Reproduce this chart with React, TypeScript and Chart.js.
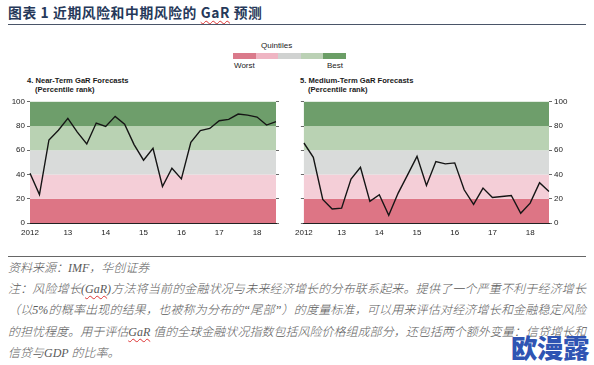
import React, { useEffect, useRef } from "react";
import { Chart, registerables } from "chart.js";

Chart.register(...registerables);

// ---------- data ----------
const quarters = [
  "2012Q1", "2012Q2", "2012Q3", "2012Q4",
  "2013Q1", "2013Q2", "2013Q3", "2013Q4",
  "2014Q1", "2014Q2", "2014Q3", "2014Q4",
  "2015Q1", "2015Q2", "2015Q3", "2015Q4",
  "2016Q1", "2016Q2", "2016Q3", "2016Q4",
  "2017Q1", "2017Q2", "2017Q3", "2017Q4",
  "2018Q1", "2018Q2", "2018Q3",
];
const yearLabels = ["2012", "13", "14", "15", "16", "17", "18"];

const nearTerm = [
  41, 23.5, 68.5, 76.5, 86.3, 75, 65.2, 82.5, 79.7, 88, 81.6, 64.7, 51.8, 61.6,
  30.1, 45.2, 36.4, 66.6, 76.2, 78, 84.4, 85.5, 89.9, 89, 87.4, 80.8, 83.6,
];
const mediumTerm = [
  66, 54.2, 19.5, 11.5, 12.3, 36.2, 46, 17.8, 23.3, 6.3, 24.7, 39.7, 55, 31,
  50.7, 48.8, 49.6, 27.4, 15.3, 28.8, 21.1, 21.9, 22.7, 8, 16.4, 33.2, 26,
];

const bandEdges = [0, 20, 40, 60, 80, 100];
const bandColors = ["#dd7585", "#f4ced7", "#d9dbda", "#b9d2b3", "#6e9e6b"];
const legendColors = ["#da7a8b", "#efb5c3", "#d0d2d1", "#bbd1b5", "#6b9e66"];

const FONT = "'Liberation Sans', Arial, sans-serif";

const bandsPlugin = {
  id: "bands",
  beforeDraw(chart: any) {
    const { ctx, chartArea: a, scales } = chart;
    const y = scales.y;
    ctx.save();
    for (let i = 0; i < bandColors.length; i++) {
      const y0 = y.getPixelForValue(bandEdges[i]);
      const y1 = y.getPixelForValue(bandEdges[i + 1]);
      ctx.fillStyle = bandColors[i];
      ctx.fillRect(a.left, y1, a.right - a.left, y0 - y1);
    }
    ctx.restore();
  },
};

function Panel(props: {
  values: number[];
  side: "left" | "right";
  left: number;
  top: number;
  width: number;
  height: number;
}) {
  const ref = useRef<HTMLCanvasElement>(null);
  useEffect(() => {
    const side = props.side;
    const tickFont = { family: FONT, size: 8 };
    const chart = new Chart(ref.current as HTMLCanvasElement, {
      type: "line",
      data: {
        labels: quarters,
        datasets: [
          {
            data: props.values,
            borderColor: "#151515",
            borderWidth: 1.4,
            pointRadius: 0,
            tension: 0,
            fill: false,
          },
        ],
      },
      plugins: [bandsPlugin],
      options: {
        animation: false,
        responsive: false,
        devicePixelRatio: 1,
        layout: {
          padding: {
            left: side === "left" ? 0 : 9,
            right: 10,
            top: 6,
            bottom: 0,
          },
        },
        plugins: { legend: { display: false }, tooltip: { enabled: false } },
        scales: {
          x: {
            type: "category",
            offset: false,
            grid: { display: false, drawTicks: false },
            border: { display: true, color: "#222", width: 1 },
            ticks: {
              autoSkip: false,
              maxRotation: 0,
              minRotation: 0,
              padding: 5,
              font: tickFont,
              color: "#222",
              callback: (_v: any, idx: number) =>
                idx % 4 === 0 ? yearLabels[idx / 4] : "",
            },
            afterFit: (s: any) => {
              s.height = 17;
            },
          },
          y: {
            type: "linear",
            position: side,
            min: 0,
            max: 100,
            ticks: { stepSize: 20, font: tickFont, color: "#222", padding: 2 },
            grid: {
              drawOnChartArea: false,
              drawTicks: true,
              tickLength: 3,
              color: "#444",
              lineWidth: 0.8,
            },
            border: { display: false },
            afterFit: (s: any) => {
              s.width = side === "left" ? 30 : 35;
            },
          },
          y2: {
            type: "linear",
            position: side === "left" ? "right" : "left",
            min: 0,
            max: 100,
            ticks: { stepSize: 20, display: false },
            grid: {
              drawOnChartArea: false,
              drawTicks: true,
              tickLength: 3,
              color: "#444",
              lineWidth: 0.8,
            },
            border: { display: false },
            afterFit: (s: any) => {
              s.width = 4;
            },
          },
        },
      } as any,
    });
    return () => chart.destroy();
  }, []);
  return (
    <canvas
      ref={ref}
      width={props.width}
      height={props.height}
      style={{
        position: "absolute",
        left: props.left,
        top: props.top,
        width: props.width,
        height: props.height,
      }}
    />
  );
}

const abs = (l: number, t: number, extra: any = {}) => ({
  position: "absolute" as const,
  left: l,
  top: t,
  whiteSpace: "nowrap" as const,
  ...extra,
});

const wavy = {
  textDecoration: "underline wavy #d33",
  textDecorationThickness: "1px",
  textUnderlineOffset: "2px",
};

export default function App() {
  const panelTitle = {
    fontFamily: FONT,
    fontWeight: 700,
    fontSize: 7.6,
    color: "#1a1a1a",
    lineHeight: "9px",
  };
  const smallText = { fontFamily: FONT, fontSize: 8, color: "#222", lineHeight: "9px" };
  const noteStyle = {
    fontFamily: "'Liberation Serif', 'Noto Sans CJK SC', serif",
    fontStyle: "italic",
    fontWeight: 300,
    fontSize: 12,
    color: "#5a5a5a",
    lineHeight: "21.4px",
    width: 578,
  };
  const justify = { textAlign: "justify" as const, textAlignLast: "justify" as const, whiteSpace: "nowrap" as const };
  return (
    <div
      style={{
        position: "fixed",
        left: 0,
        top: 0,
        width: 594,
        height: 365,
        background: "#fff",
        overflow: "hidden",
      }}
    >
      {/* title */}
      <div
        style={abs(8, 3, {
          fontFamily: "'Noto Sans CJK SC', sans-serif",
          fontWeight: 700,
          fontSize: 13.8,
          letterSpacing: "0.6px",
          color: "#26395a",
          lineHeight: "18px",
        })}
      >
        图表 1 近期风险和中期风险的 <span style={wavy}>GaR</span> 预测
      </div>
      <div style={abs(8, 23.5, { width: 578, height: 1.5, background: "#4a5568" })} />

      {/* legend */}
      <div style={abs(261, 41, { ...smallText })}>Quintiles</div>
      <div style={abs(233, 53, { display: "flex", height: 5.5 })}>
        {legendColors.map((c, i) => (
          <div key={i} style={{ width: 22.6, height: 5.5, background: c }} />
        ))}
      </div>
      <div style={abs(234, 61, { ...smallText })}>Worst</div>
      <div style={abs(327, 61, { ...smallText })}>Best</div>

      {/* panel titles */}
      <div style={abs(27, 75.5, panelTitle)}>4. Near-Term GaR Forecasts</div>
      <div style={abs(35, 84.5, panelTitle)}>(Percentile rank)</div>
      <div style={abs(300, 75.5, panelTitle)}>5. Medium-Term GaR Forecasts</div>
      <div style={abs(308, 84.5, panelTitle)}>(Percentile rank)</div>

      <Panel values={nearTerm} side="left" left={0} top={95} width={290} height={145} />
      <Panel values={mediumTerm} side="right" left={290} top={95} width={304} height={145} />

      {/* bottom rule */}
      <div style={abs(8, 255.5, { width: 578, height: 1.2, background: "#666" })} />

      {/* notes */}
      <div style={abs(8, 257.5, noteStyle)}>资料来源：IMF，华创证券</div>
      <div style={abs(8, 278.8, { ...noteStyle, ...justify })}>
        注：风险增长(<span style={wavy}>GaR</span>)方法将当前的金融状况与未来经济增长的分布联系起来。提供了一个严重不利于经济增长
      </div>
      <div style={abs(8, 300.2, { ...noteStyle, ...justify })}>
        （以5%的概率出现的结果，也被称为分布的“尾部”）的度量标准，可以用来评估对经济增长和金融稳定风险
      </div>
      <div style={abs(8, 321.6, { ...noteStyle, ...justify })}>
        的担忧程度。用于评估<span style={wavy}>GaR</span> 值的全球金融状况指数包括风险价格组成部分，还包括两个额外变量：信贷增长和
      </div>
      <div style={abs(8, 343, noteStyle)}>信贷与GDP 的比率。</div>

      {/* watermark */}
      <div
        style={abs(511, 330, {
          fontFamily: "'Noto Sans CJK SC', sans-serif",
          fontWeight: 900,
          fontSize: 26.5,
          color: "#2f54b3",
          lineHeight: "34px",
          letterSpacing: "-0.5px",
        })}
      >
        欧漫露
      </div>
    </div>
  );
}
